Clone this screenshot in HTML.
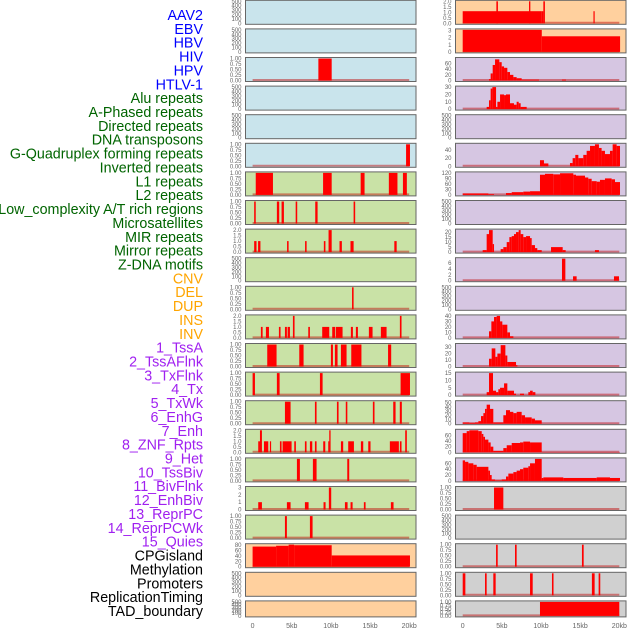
<!DOCTYPE html>
<html><head><meta charset="utf-8"><style>
html,body{margin:0;padding:0;background:#fff;}
svg{display:block;font-family:"Liberation Sans",sans-serif;}
</style></head><body>
<svg id="chart" width="630" height="630" viewBox="0 0 630 630" xmlns="http://www.w3.org/2000/svg"></svg>
<script>
const trackLabels=["AAV2","EBV","HBV","HIV","HPV","HTLV-1","Alu repeats","A-Phased repeats","Directed repeats","DNA transposons","G-Quadruplex forming repeats","Inverted repeats","L1 repeats","L2 repeats","Low_complexity A/T rich regions","Microsatellites","MIR repeats","Mirror repeats","Z-DNA motifs","CNV","DEL","DUP","INS","INV","1_TssA","2_TssAFlnk","3_TxFlnk","4_Tx","5_TxWk","6_EnhG","7_Enh","8_ZNF_Rpts","9_Het","10_TssBiv","11_BivFlnk","12_EnhBiv","13_ReprPC","14_ReprPCWk","15_Quies","CPGisland","Methylation","Promoters","ReplicationTiming","TAD_boundary"];
const labelColors=["#0000ff","#0000ff","#0000ff","#0000ff","#0000ff","#0000ff","#006400","#006400","#006400","#006400","#006400","#006400","#006400","#006400","#006400","#006400","#006400","#006400","#006400","#ffa500","#ffa500","#ffa500","#ffa500","#ffa500","#a020f0","#a020f0","#a020f0","#a020f0","#a020f0","#a020f0","#a020f0","#a020f0","#a020f0","#a020f0","#a020f0","#a020f0","#a020f0","#a020f0","#a020f0","#000","#000","#000","#000","#000"];
const panelBg=["#c9e4ec","#c9e4ec","#c9e4ec","#c9e4ec","#c9e4ec","#c9e4ec","#c9e2a6","#c9e2a6","#c9e2a6","#c9e2a6","#c9e2a6","#c9e2a6","#c9e2a6","#c9e2a6","#c9e2a6","#c9e2a6","#c9e2a6","#c9e2a6","#c9e2a6","#ffd09e","#ffd09e","#ffd09e","#ffd09e","#ffd09e","#d6c6e2","#d6c6e2","#d6c6e2","#d6c6e2","#d6c6e2","#d6c6e2","#d6c6e2","#d6c6e2","#d6c6e2","#d6c6e2","#d6c6e2","#d6c6e2","#d6c6e2","#d6c6e2","#d6c6e2","#d0d0d0","#d0d0d0","#d0d0d0","#d0d0d0","#d0d0d0"];
const T500=[0,100,200,300,400,500], T1=[0,0.25,0.5,0.75,1], T2=[0,0.5,1,1.5,2];
const panelTicks=[T500,T500,T1,T500,T500,T1,T1,T1,T2,T500,T1,T2,T1,T1,T1,T2,T1,[0,1,2,3],T1,[0,20,40,60,80],T500,T500,
 T2,[0,1,2,3],[0,20,40,60],[0,10,20,30],T500,[0,20,40],[0,30,60,90,120],T500,[0,5,10,15,20],[0,2,4,6],T500,[0,10,20,30,40],[0,10,20,30],[0,5,10,15],[0,10,20,30,40,50],[0,20,40,60],[0,20,40,60],T1,T500,T1,T1,T1];
const panelMax=[500,500,1,500,500,1,1,1,2,500,1,2,1,1,1,2,1,3,1,82,500,500,
 2,3.1,78,30,500,54,120,500,22,7.5,500,40,34,15,52,78,75,1,500,1,1,1];
const panelSegs=[
[],[],[[8.4,10.1,1]],[],[],[[19.6,20.1,1]],
[[0.4,2.6,1],[9.0,10.1,1],[13.8,14.3,1],[17.4,18.5,1],[19.2,19.7,1]],
[[0.2,0.4,1],[3.1,3.4,1],[3.7,4.0,1],[5.5,5.7,1],[8.0,8.3,1],[12.9,13.1,1]],
[[0.2,0.5,1],[0.7,1.0,1],[4.4,4.6,1],[6.7,6.9,1],[9.1,9.3,1],[11.1,11.4,1],[12.5,12.9,1],[18.1,18.4,1],[9.7,10.1,2]],
[],[[12.7,12.9,1]],
[[1.06,1.28,1],[1.70,2.09,1],[3.36,3.57,1],[4.13,4.38,1],[4.47,4.77,1],[5.15,5.36,2],[7.11,7.32,1],[8.89,9.79,1],[10.17,10.55,1],[10.64,11.49,1],[12.55,12.81,1],[13.19,13.45,1],[14.85,15.32,1],[16.38,17.11,1],[18.81,19.02,2]],
[[1.87,3.06,1],[5.96,6.51,1],[10.0,10.26,1],[10.51,10.85,1],[11.28,12.0,1],[12.6,13.9,1],[17.3,17.7,1]],
[[0,0.3,1],[3.1,3.45,1],[8.6,8.94,1],[18.9,20.1,1]],
[[4.13,4.85,1],[7.96,8.17,1],[10.77,10.98,1],[11.9,12.1,1],[15.36,15.57,1],[17.96,18.26,1],[18.8,19.06,1]],
[[0.72,0.94,1],[0.94,1.19,2],[1.45,2.0,1],[2.21,2.34,1],[3.49,3.70,1],[3.83,4.98,1],[5.32,5.53,1],[6.68,6.89,1],[7.32,7.62,1],[7.96,8.17,1],[9.02,9.28,1],[9.66,9.79,1],[9.79,9.96,2],[11.28,11.57,1],[12.21,12.94,1],[13.83,14.13,1],[14.77,15.06,1],[17.53,18.68,1],[18.81,19.02,1],[19.49,19.7,2]],
[[5.66,6.04,1],[7.70,8.17,1],[12.09,12.34,1]],
[[0.72,1.19,1],[4.38,4.85,1],[6.68,7.15,1],[9.06,9.32,1],[9.74,10.04,3],[11.79,12.13,1],[12.51,12.77,1],[14.21,14.43,1],[17.66,18.0,1]],
[[4.13,4.38,1],[7.32,7.66,1]],
[[0,3,75],[3,4.6,78],[4.6,5.3,82],[5.3,10.1,80],[10.1,20.1,42]],
[],[],
[[0,10.1,1.1],[4.3,4.5,2],[8.47,8.64,2],[10.1,10.3,1.1],[10.3,10.5,2],[16.7,16.85,1.1]],
[[0,10.1,3.1],[10.1,20.1,2.2]],
[[3.36,3.57,5],[3.57,3.83,25],[3.83,4.13,55],[4.13,4.68,75],[4.68,4.98,65],[4.98,5.28,50],[5.28,5.70,45],[5.70,6.04,30],[6.04,6.47,20],[6.47,6.89,12],[6.89,7.53,8],[7.53,9.74,3],[12.68,13.19,3]],
[[3.06,3.36,3],[3.36,3.57,12],[3.57,3.79,28],[3.79,4.26,30],[4.26,4.43,3],[4.43,4.77,10],[4.77,5.28,20],[5.28,5.53,19],[5.53,6.04,20],[6.04,6.55,8],[6.55,6.89,6],[6.89,7.15,10],[7.15,7.40,8],[7.40,8.17,3]],
[],
[[9.87,10.38,15],[10.38,10.94,7],[13.70,14.04,8],[14.04,14.38,20],[14.38,14.77,28],[14.77,15.40,20],[15.40,15.83,28],[15.83,16.26,38],[16.26,16.89,50],[16.89,17.40,54],[17.40,17.74,45],[17.74,18.17,38],[18.17,18.81,30],[18.81,19.15,38],[19.15,19.66,54],[19.66,20.09,50]],
[[0,3.28,8],[3.28,4.0,4],[5.53,6.26,10],[6.26,7.32,15],[7.32,7.74,15],[7.74,8.60,18],[8.60,9.87,20],[9.87,10.51,110],[10.51,11.57,115],[11.57,12.43,112],[12.43,14.13,118],[14.13,14.47,110],[14.47,15.62,105],[15.62,16.04,95],[16.04,16.47,88],[16.47,17.11,75],[17.11,17.53,72],[17.53,18.17,82],[18.17,19.02,90],[19.02,19.45,85],[19.45,20.09,70]],
[],
[[2.55,3.06,2],[3.06,3.36,18],[3.36,3.83,22],[3.83,4.0,8],[4.85,5.19,3],[5.19,5.62,5],[5.62,5.96,10],[5.96,6.26,15],[6.26,6.55,16],[6.55,6.81,18],[6.81,7.15,20],[7.15,7.40,22],[7.40,7.74,18],[7.74,8.09,15],[8.09,8.60,16],[8.60,8.81,14],[8.81,9.23,7],[9.23,9.53,4],[9.53,10.09,2],[11.28,12.77,5],[12.77,13.15,2],[16.89,17.40,2]],
[[12.68,13.11,7.5],[14.09,14.55,1.5],[19.32,19.96,1.5]],
[],
[[3.36,3.66,12],[3.66,4.0,30],[4.0,4.34,38],[4.34,4.77,40],[4.77,5.06,30],[5.06,5.70,24],[5.70,6.04,10],[6.04,6.47,3]],
[[3.36,3.70,12],[3.70,4.17,28],[4.17,4.43,15],[4.43,4.85,20],[4.85,5.45,33],[5.45,5.70,17],[5.70,6.81,7],[6.81,6.98,2]],
[[3.06,3.36,2],[3.36,3.87,15],[3.87,4.26,3],[4.26,4.55,2],[4.55,4.77,4],[4.77,5.28,5],[5.28,5.70,8],[5.70,6.55,3],[6.55,6.81,1],[7.32,7.83,1],[8.38,8.60,2],[8.60,8.94,3],[8.94,9.28,2]],
[[0,0.85,3],[0.85,1.57,2],[1.57,2.0,3],[2.0,2.34,6],[2.34,2.64,18],[2.64,2.85,25],[2.85,3.06,35],[3.06,3.49,45],[3.49,3.91,35],[3.91,5.19,3],[5.19,5.53,20],[5.53,6.04,32],[6.04,6.47,28],[6.47,6.89,25],[6.89,7.53,28],[7.53,7.96,20],[7.96,8.81,15],[8.81,9.23,12],[9.23,10.09,8]],
[[0,0.51,68],[0.51,0.85,75],[0.85,2.0,78],[2.0,2.43,75],[2.43,2.64,65],[2.64,2.85,55],[2.85,3.28,45],[3.28,3.57,35],[3.57,3.91,20],[3.91,5.19,5],[5.19,5.62,15],[5.62,6.26,25],[6.26,7.32,33],[7.32,7.74,35],[7.74,8.60,38],[8.60,10.09,35],[10.09,20.09,1]],
[[0,0.30,70],[0.30,0.72,65],[0.72,1.36,60],[1.36,1.79,55],[1.79,3.28,48],[3.28,3.49,35],[3.49,3.70,20],[3.70,4.13,5],[4.13,4.98,2],[4.98,5.53,5],[5.53,5.83,15],[5.83,6.47,25],[6.47,6.89,30],[6.89,7.32,35],[7.32,7.74,40],[7.74,8.38,45],[8.38,8.60,50],[8.60,9.23,60],[9.23,10.09,75],[10.09,10.30,10],[10.30,12.85,12],[12.85,17.11,10],[17.11,18.81,12],[18.81,20.09,10]],
[[4.0,5.19,1]],
[],
[[4.26,4.47,1],[6.68,6.89,1],[15.23,15.45,1]],
[[0,0.34,1],[2.85,3.06,1],[3.91,4.21,1],[8.6,8.94,1],[11.4,11.6,1],[16.5,16.85,1],[17.36,17.57,1]],
[[9.87,20.0,1]]
];
const xTickValues=[0,5,10,15,20];
const xTickLabels=["0","5kb","10kb","15kb","20kb"];

const NS="http://www.w3.org/2000/svg";
const svg=document.getElementById('chart');
function mk(tag,attrs,parent){const e=document.createElementNS(NS,tag);for(const k in attrs)e.setAttribute(k,attrs[k]);(parent||svg).appendChild(e);return e;}
const PITCH=28.6, PW=170.5, KBPX=7.83;
const colX=[245.5,455.5], dataX0=[252.6,462.7];
function xScale(col,kb){return dataX0[col]+kb*KBPX;}

trackLabels.forEach((t,i)=>{
  const el=mk('text',{x:203,y:15+i*13.86+5,'text-anchor':'end','font-size':14.3,fill:labelColors[i]});
  el.textContent=t;
  
  
});

for(let p=0;p<44;p++){
  const col=p<22?0:1, row=p%22;
  const top=row*PITCH+0.3, h=row===21?16:24;
  const g=mk('g',{});
  
  
  mk('rect',{x:colX[col],y:top,width:PW,height:h,fill:panelBg[p]},g);
  const ymax=panelMax[p];
  const yS=v=>top+h-1-(v/ymax)*(h-2);
  const segs=panelSegs[p];
  if(segs.length){
    const bl=mk('line',{x1:xScale(col,0),x2:xScale(col,20),y1:top+h-1.5,y2:top+h-1.5,stroke:'rgba(190,0,0,0.45)','stroke-width':2},g);
    
    
  }
  segs.forEach(s=>{
    const x1=xScale(col,s[0]),x2=xScale(col,s[1]);
    const y=yS(Math.min(s[2],ymax));
    const r=mk('rect',{x:x1,y:y,width:Math.max(1.2,x2-x1),height:top+h-1-y,fill:'#ff0000'},g);
    
    
  });
  mk('rect',{x:colX[col],y:top,width:PW,height:h,fill:'none',stroke:'#666','stroke-width':1},g);
  panelTicks[p].forEach(tv=>{
    const lbl=mk('text',{x:colX[col]-4,y:yS(tv)+2,'text-anchor':'end','font-size':6,fill:'#666'},g);
    lbl.textContent=(panelTicks[p]===T1)?tv.toFixed(2):(panelTicks[p]===T2?tv.toFixed(1):String(tv));
    
    
  });
}
[0,1].forEach(col=>{
  xTickValues.forEach((v,i)=>{
    const t=mk('text',{x:xScale(col,v),y:628,'text-anchor':'middle','font-size':7,fill:'#666'});
    t.textContent=xTickLabels[i];
    
    
  });
});
</script>
</body></html>
